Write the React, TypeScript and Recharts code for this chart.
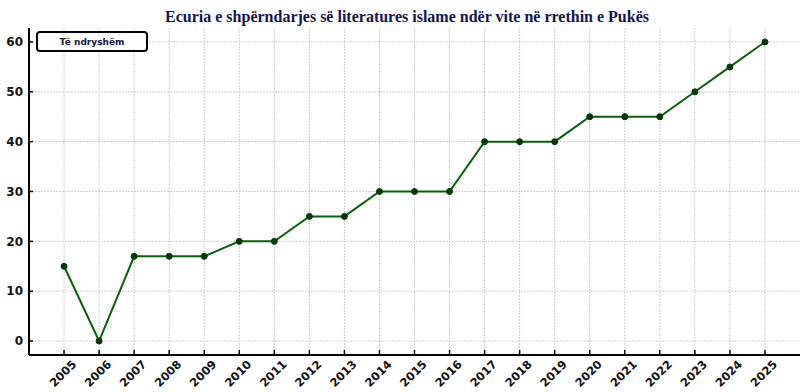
import { CartesianGrid, Line, LineChart, XAxis, YAxis } from "recharts";

const years = [
  2005, 2006, 2007, 2008, 2009, 2010, 2011, 2012, 2013, 2014, 2015, 2016,
  2017, 2018, 2019, 2020, 2021, 2022, 2023, 2024, 2025,
];
const values = [
  15, 0, 17, 17, 17, 20, 20, 25, 25, 30, 30, 30, 40, 40, 40, 45, 45, 45, 50,
  55, 60,
];
const yTicks = [0, 10, 20, 30, 40, 50, 60];
const seriesName = "Të ndryshëm";
const title =
  "Ecuria e shpërndarjes së literatures islame ndër vite në rrethin e Pukës";

const data = years.map((year, i) => ({ year, value: values[i] }));

const YearTick = (props: any) => {
  const { x, y, payload } = props;
  return (
    <text
      transform={`translate(${x + 13}, ${y + 5}) rotate(-45)`}
      textAnchor="end"
      fontSize={11.5}
      fontWeight="bold"
      fontFamily="'DejaVu Sans', sans-serif"
      fill="#111"
    >
      {payload.value}
    </text>
  );
};

export default function App() {
  return (
    <div
      style={{
        position: "absolute",
        left: 0,
        top: 0,
        width: 800,
        height: 392,
        background: "#fff",
      }}
    >
      <div
        style={{
          position: "absolute",
          left: 0,
          top: 8,
          width: 814,
          textAlign: "center",
          fontFamily: "'Liberation Serif', serif",
          fontSize: 16,
          fontWeight: "bold",
          color: "#15154a",
          zIndex: 2,
        }}
      >
        {title}
      </div>
      <LineChart
        width={800}
        height={392}
        data={data}
        margin={{ top: 28, right: 0, left: 0, bottom: 0 }}
      >
        <CartesianGrid
          stroke="#cfcfcf"
          strokeDasharray="2 1"
          horizontalValues={yTicks}
          verticalValues={years}
        />
        <XAxis
          dataKey="year"
          type="number"
          domain={[2004, 2026]}
          ticks={years}
          interval={0}
          height={37}
          axisLine={{ stroke: "#000", strokeWidth: 2 }}
          tickLine={{ stroke: "#000", strokeWidth: 1.5 }}
          tickSize={-5}
          tickMargin={10}
          tick={<YearTick />}
        />
        <YAxis
          type="number"
          domain={[-2.8, 62.8]}
          ticks={yTicks}
          width={29}
          axisLine={{ stroke: "#000", strokeWidth: 2 }}
          tickLine={{ stroke: "#000", strokeWidth: 1.5 }}
          tickSize={-4}
          tickMargin={10}
          tick={{
            fill: "#111",
            fontSize: 12,
            fontWeight: "bold",
            fontFamily: "'DejaVu Sans', sans-serif",
          }}
        />
        <Line
          type="linear"
          dataKey="value"
          name={seriesName}
          stroke="#0b5e0b"
          strokeWidth={2}
          dot={{ r: 3, fill: "#053805", stroke: "#053805", strokeWidth: 1 }}
          isAnimationActive={false}
        />
      </LineChart>
      <div
        style={{
          position: "absolute",
          left: 36,
          top: 31,
          width: 108,
          height: 17,
          border: "2px solid #000",
          borderRadius: 4,
          background: "#fff",
          display: "flex",
          alignItems: "center",
          justifyContent: "center",
          fontFamily: "'DejaVu Sans', sans-serif",
          fontSize: 9,
          fontWeight: "bold",
          color: "#141440",
        }}
      >
        {seriesName}
      </div>
    </div>
  );
}
